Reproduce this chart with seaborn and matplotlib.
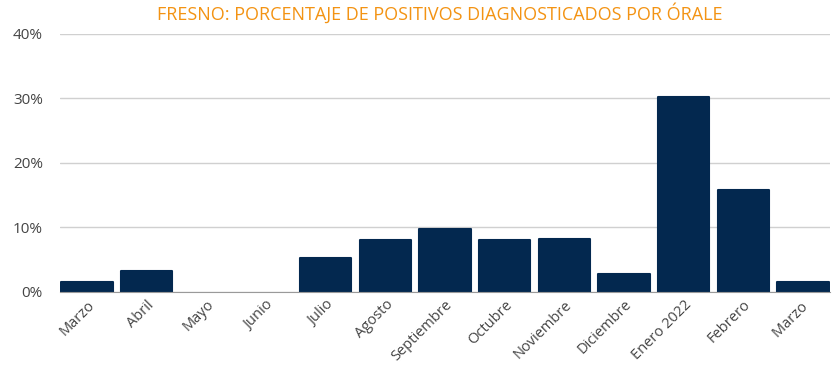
import matplotlib
matplotlib.use("Agg")
import matplotlib.pyplot as plt
from matplotlib.ticker import PercentFormatter
import pandas as pd
import seaborn as sns

months = ["Marzo", "Abril", "Mayo", "Junio", "Julio", "Agosto", "Septiembre",
          "Octubre", "Noviembre", "Diciembre", "Enero 2022", "Febrero", "Marzo "]
positivity = [1.5, 3.3, 0.0, 0.0, 5.2, 8.1, 9.7, 8.1, 8.2, 2.7, 30.2, 15.7, 1.5]
y_ticks = [0, 10, 20, 30, 40]

NAVY = "#03284f"
ORANGE = "#f39313"


def main():
    sns.set_style("white")
    plt.rcParams["font.family"] = ["Open Sans", "DejaVu Sans"]

    df = pd.DataFrame({"mes": months, "pct": positivity})

    fig = plt.figure(figsize=(8.4, 3.78), dpi=100)
    ax = fig.add_axes([0.071, 0.228, 0.917, 0.683])

    sns.barplot(data=df, x="mes", y="pct", color=NAVY, width=0.86,
                saturation=1, ax=ax, zorder=3)

    # slightly rounded bar tops
    for p in ax.patches:
        if p.get_height() > 0:
            p.set_edgecolor(NAVY)
            p.set_linewidth(1.5)
            p.set_joinstyle("round")

    ax.set_ylim(0, 40)
    ax.set_xlim(-0.46, len(months) - 0.55)
    ax.set_yticks(y_ticks)
    ax.yaxis.set_major_formatter(PercentFormatter(decimals=0))
    ax.grid(axis="y", color="#d0d0d0", linewidth=1, zorder=0)
    ax.set_axisbelow(True)

    for side in ["top", "right", "left"]:
        ax.spines[side].set_visible(False)
    ax.spines["bottom"].set_color("#9a9a9a")
    ax.spines["bottom"].set_zorder(4)

    ax.set_xlabel("")
    ax.set_ylabel("")
    ax.tick_params(axis="y", length=0, pad=12, labelsize=11, labelcolor="#444444")
    ax.tick_params(axis="x", length=0, pad=4, labelsize=10.5, labelcolor="#444444")
    plt.setp(ax.get_xticklabels(), rotation=45, ha="right", rotation_mode="anchor")

    fig.text(0.523, 0.965, "FRESNO: PORCENTAJE DE POSITIVOS DIAGNOSTICADOS POR ÓRALE",
             ha="center", va="center", color=ORANGE, fontsize=13)

    fig.savefig("out.png", dpi=100)


if __name__ == "__main__":
    main()
